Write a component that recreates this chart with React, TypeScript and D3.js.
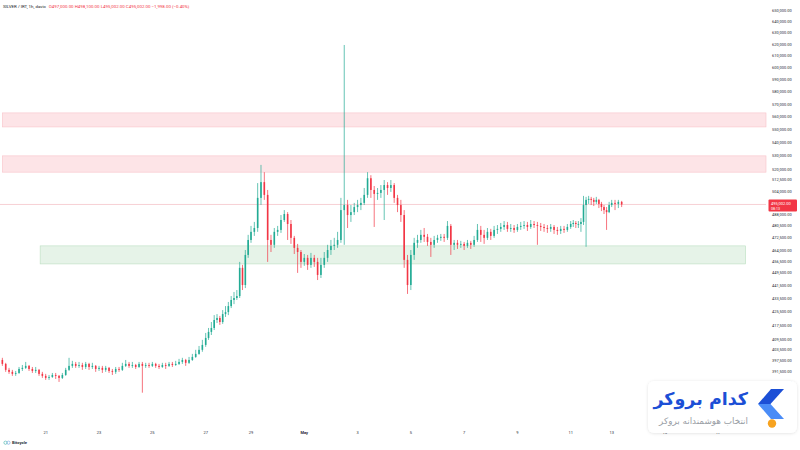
import React, { useEffect } from 'react'
import * as d3 from 'd3'

// hourly SILVER/IRT chart, resampled to 3h candles (values in thousands of IRT)
const firstCandle = new Date(2025, 3, 19, 9)
const candleHours = 3
const firstOpen = 397.8

const closes = [
  395.6, 392.3, 391.2, 390.1, 390.6, 392.8, 393.4, 394.5, 392.8, 391.7,
  392.3, 390.1, 389.0, 387.9, 388.4, 389.5, 389.0, 387.9, 389.5, 392.3,
  394.5, 395.6, 394.5, 395.0, 393.9, 395.6, 393.9, 394.5, 392.8, 393.4,
  392.3, 393.4, 391.7, 391.2, 392.8, 392.3, 394.5, 395.6, 394.5, 395.0,
  393.9, 395.6, 394.5, 395.0, 394.5, 395.6, 394.5, 393.9, 395.0, 394.5,
  395.6, 395.0, 395.6, 396.7, 397.8, 396.2, 397.8, 399.5, 401.2, 403.5,
  406.3, 410.3, 413.8, 416.1, 420.8, 422.0, 419.6, 424.3, 425.5, 429.1,
  432.8, 434.0, 435.2, 452.8, 442.0, 461.1, 470.9, 476.3, 478.9, 499.6,
  510.8, 501.7, 470.9, 467.7, 476.3, 477.6, 484.3, 488.4, 481.6, 472.3,
  465.7, 463.0, 456.6, 459.2, 454.7, 459.2, 456.6, 448.3, 454.7, 459.2,
  464.3, 467.0, 467.7, 470.9, 491.1, 494.6, 487.7, 489.7, 493.2, 494.6,
  496.1, 501.7, 513.6, 505.2, 502.4, 503.1, 505.2, 508.7, 506.6, 508.7,
  499.6, 494.6, 487.7, 457.9, 442.0, 461.1, 469.0, 470.9, 474.3, 473.0,
  469.6, 467.7, 470.9, 472.3, 473.0, 472.3, 480.3, 467.7, 469.0, 467.7,
  468.3, 467.0, 469.0, 467.7, 470.9, 477.6, 474.3, 472.3, 476.3, 473.6,
  477.6, 478.3, 479.6, 480.9, 478.3, 478.9, 477.6, 479.6, 480.3, 480.9,
  479.6, 481.6, 480.9, 480.3, 479.6, 478.9, 478.3, 479.6, 477.6, 476.9,
  478.3, 477.6, 479.6, 481.6, 482.3, 481.6, 481.6, 483.0, 494.6, 498.2,
  498.9, 498.2, 496.8, 498.2, 495.4, 493.2, 491.1, 489.7, 494.6, 496.1,
  495.4, 496.8, 495.002,
]

const highs = [
  399.0, 396.2, 393.4, 392.3, 391.7, 393.9, 395.0, 396.7, 395.0, 393.9,
  393.9, 392.8, 391.2, 390.1, 389.5, 390.6, 390.6, 389.5, 390.6, 393.4,
  399.0, 397.3, 396.7, 396.7, 396.2, 396.7, 396.2, 396.2, 395.0, 394.5,
  394.5, 394.5, 393.9, 392.8, 393.9, 393.9, 396.2, 397.8, 396.7, 396.7,
  395.6, 396.7, 396.7, 396.2, 396.2, 396.7, 396.2, 395.6, 396.2, 396.2,
  396.7, 396.7, 397.3, 398.4, 399.0, 398.4, 399.5, 401.2, 403.5, 405.7,
  409.2, 413.2, 416.1, 419.6, 423.7, 424.3, 423.2, 426.7, 429.1, 431.6,
  435.2, 437.7, 438.9, 456.6, 454.7, 464.3, 474.3, 480.3, 483.0, 510.1,
  523.3, 518.0, 505.2, 474.3, 478.9, 480.3, 487.7, 491.1, 489.7, 484.3,
  473.6, 468.3, 464.3, 461.7, 461.1, 462.4, 461.1, 459.2, 459.2, 463.0,
  467.7, 470.9, 472.3, 476.3, 499.6, 619.4, 498.2, 494.6, 496.1, 498.2,
  499.6, 506.6, 518.0, 515.8, 508.0, 506.6, 508.7, 512.3, 510.8, 512.3,
  510.1, 501.7, 498.2, 491.1, 461.1, 464.3, 472.3, 474.3, 477.6, 478.9,
  474.9, 472.3, 473.6, 474.3, 474.9, 474.9, 483.6, 481.6, 470.9, 470.9,
  470.3, 469.6, 470.9, 470.3, 473.6, 481.6, 480.3, 477.6, 478.9, 478.3,
  480.3, 480.9, 482.3, 483.6, 483.0, 481.6, 480.9, 481.6, 483.0, 483.6,
  483.0, 484.3, 483.6, 483.0, 482.3, 481.6, 480.9, 481.6, 480.9, 479.6,
  480.3, 480.3, 481.6, 483.6, 484.3, 483.6, 483.6, 485.6, 501.0, 500.3,
  501.0, 500.3, 499.6, 500.3, 498.9, 496.8, 494.6, 493.2, 496.8, 498.2,
  498.2, 498.2, 497.5,
]

const lows = [
  394.5, 391.2, 390.1, 389.0, 389.0, 390.1, 391.7, 392.8, 391.7, 390.6,
  390.6, 389.0, 387.9, 386.8, 386.8, 387.9, 387.3, 385.7, 387.3, 389.0,
  391.7, 393.4, 393.4, 393.4, 392.3, 392.8, 392.3, 392.8, 391.2, 391.7,
  390.6, 391.2, 390.6, 389.5, 390.1, 391.2, 391.7, 393.9, 393.4, 393.4,
  392.8, 393.4, 379.9, 393.4, 393.4, 393.9, 393.4, 392.8, 393.4, 392.8,
  393.9, 393.9, 394.5, 395.0, 395.6, 394.5, 395.6, 397.3, 399.0, 400.7,
  402.4, 405.2, 409.2, 412.0, 414.9, 419.0, 417.9, 418.5, 422.6, 423.7,
  427.9, 430.3, 432.8, 434.0, 438.9, 440.1, 459.2, 469.0, 473.6, 476.3,
  494.6, 498.2, 456.6, 463.0, 465.7, 473.6, 475.6, 483.0, 470.9, 468.3,
  461.7, 449.6, 452.8, 454.1, 451.5, 452.8, 453.4, 445.1, 446.4, 452.8,
  456.6, 461.1, 464.3, 465.7, 469.0, 467.7, 478.9, 483.0, 487.7, 489.7,
  491.1, 494.6, 499.6, 499.6, 479.6, 498.2, 499.6, 484.3, 501.7, 503.8,
  496.1, 489.7, 483.0, 452.8, 436.5, 438.9, 457.9, 465.7, 469.0, 469.6,
  467.0, 459.8, 465.7, 469.0, 470.3, 469.6, 470.9, 461.1, 464.3, 465.0,
  465.7, 464.3, 465.7, 465.0, 466.4, 469.6, 469.6, 468.3, 470.9, 470.9,
  472.3, 474.9, 476.3, 477.6, 476.3, 476.3, 475.6, 476.3, 477.6, 478.3,
  476.9, 478.3, 478.9, 467.7, 476.9, 476.3, 475.6, 476.3, 474.9, 474.3,
  474.9, 475.6, 476.3, 478.3, 479.6, 478.9, 478.9, 476.3, 480.9, 466.4,
  495.4, 494.6, 493.9, 495.4, 492.5, 490.4, 488.4, 477.6, 489.0, 493.2,
  491.1, 492.5, 493.2,
]

const lastPrice = 495002
const lastPriceText = '495,002.00'
const countdownText = '08:13'

// zones (IRT)
const resistanceZones = [
  [552000, 563000],
  [518000, 530000],
]
const supportZone = [455300, 467000]
const supportZoneDates = [new Date(2025, 3, 20, 19), new Date(2025, 4, 18, 1)]

// price axis labels
const priceTicks = [
  650000, 640000, 630000, 620000, 610000, 600000, 590000, 580000, 570000, 560000,
  550000, 540000, 530000, 520000, 512500, 504000, 488000, 480500, 472500, 464000,
  456500, 449500, 441500, 433500, 425500, 417500, 409500, 403500, 397500, 391500,
  385500,
]
const zeroTicks = [379500, 373500, 367500, 361500]

// date axis
const dateTicks = [
  new Date(2025, 3, 21), new Date(2025, 3, 23), new Date(2025, 3, 25), new Date(2025, 3, 27),
  new Date(2025, 3, 29), new Date(2025, 4, 1), new Date(2025, 4, 3), new Date(2025, 4, 5),
  new Date(2025, 4, 7), new Date(2025, 4, 9), new Date(2025, 4, 11), new Date(2025, 4, 13),
  new Date(2025, 4, 15), new Date(2025, 4, 17),
]
// bar-index axis: hours missing around Apr 27-29 and May 11-13 squeeze those days
const scaleAnchors = [
  new Date(2025, 3, 21), new Date(2025, 3, 27), new Date(2025, 3, 29),
  new Date(2025, 4, 11), new Date(2025, 4, 13), new Date(2025, 4, 17),
]

const headerSymbol = 'SILVER / IRT, 1h, davic'
const headerValues = 'O497,000.00 H498,100.00 L495,002.00 C495,002.00 \u22121,998.00 (\u22120.40%)'

const UP = '#22ab94'
const DOWN = '#f23645'

function App() {
  useEffect(() => {
    document.body.style.margin = '0'
  }, [])

  const plotRight = 766
  const x = d3
    .scaleTime()
    .domain(scaleAnchors)
    .range([45.7, 205.7, 251, 570.7, 611.7, 718])
  const y = d3.scaleLog().domain([650000, 385500]).range([10.7, 382.3])

  const candles = closes.map((c, i) => {
    const open = i === 0 ? firstOpen : closes[i - 1]
    return {
      t: d3.timeHour.offset(firstCandle, candleHours * i),
      o: open * 1000,
      c: c * 1000,
      h: highs[i] * 1000,
      l: lows[i] * 1000,
    }
  })

  const startX = x(firstCandle)
  const bodyW = 1.6
  const fmt = d3.format(',.2f')
  const axisFont = "Roboto, 'Liberation Sans', sans-serif"

  return (
    <svg
      width={800}
      height={450}
      style={{ display: 'block', background: '#fff' }}
      fontFamily={axisFont}
    >
      <defs>
        <filter id="shadow" x="-10%" y="-20%" width="120%" height="140%">
          <feDropShadow dx="0" dy="0.5" stdDeviation="1.5" floodColor="#000" floodOpacity="0.12" />
        </filter>
      </defs>

      {/* zones */}
      {resistanceZones.map(([lo, hi], i) => (
        <rect
          key={'r' + i}
          x={startX}
          y={y(hi)}
          width={plotRight - startX}
          height={y(lo) - y(hi)}
          fill="#fde4e7"
          stroke="#f8c3c9"
          strokeWidth={0.6}
        />
      ))}
      <rect
        x={x(supportZoneDates[0])}
        y={y(supportZone[1])}
        width={x(supportZoneDates[1]) - x(supportZoneDates[0])}
        height={y(supportZone[0]) - y(supportZone[1])}
        fill="#e6f3e8"
        stroke="#bcdfc1"
        strokeWidth={0.6}
      />

      {/* last price line */}
      <line
        x1={0}
        x2={plotRight}
        y1={y(lastPrice)}
        y2={y(lastPrice)}
        stroke="#f5c4c9"
        strokeWidth={0.8}
      />

      {/* candles */}
      {candles.map((d, i) => {
        const cx = x(d.t)
        const col = d.c >= d.o ? UP : DOWN
        const top = y(Math.max(d.o, d.c))
        const bot = y(Math.min(d.o, d.c))
        return (
          <g key={i}>
            <line x1={cx} x2={cx} y1={y(d.h)} y2={y(d.l)} stroke={col} strokeWidth={0.7} />
            <rect
              x={cx - bodyW / 2}
              y={top}
              width={bodyW}
              height={Math.max(0.8, bot - top)}
              fill={col}
            />
          </g>
        )
      })}

      {/* header */}
      <text x={3} y={8} fontSize={4.4} fill="#131722">
        {headerSymbol}
        <tspan dx={3} fill={DOWN}>
          {headerValues}
        </tspan>
      </text>

      {/* price axis */}
      {priceTicks.map(v => (
        <text key={v} x={772} y={y(v)} dy="0.35em" fontSize={4} fill="#2a2e39">
          {fmt(v)}
        </text>
      ))}
      {zeroTicks.map(v => (
        <text key={v} x={785} y={y(v)} dy="0.35em" fontSize={4} fill="#2a2e39">
          0.00
        </text>
      ))}

      {/* last price label */}
      <rect x={768.5} y={y(lastPrice) - 5} width={28.5} height={12} rx={1} fill={DOWN} />
      <text x={771} y={y(lastPrice) - 1.2} dy="0.35em" fontSize={4} fill="#fff">
        {lastPriceText}
      </text>
      <text x={771} y={y(lastPrice) + 3.8} dy="0.35em" fontSize={3.6} fill="#fff">
        {countdownText}
      </text>

      {/* time axis */}
      {dateTicks.map(d => (
        <text
          key={+d}
          x={x(d)}
          y={434}
          textAnchor="middle"
          fontSize={4}
          fontWeight={d.getDate() === 1 ? 700 : 400}
          fill="#2a2e39"
        >
          {d.getDate() === 1 ? d3.timeFormat('%b')(d) : d.getDate()}
        </text>
      ))}

      {/* source tag */}
      <g transform="translate(3,444)">
        <circle cx={2.5} cy={-1.3} r={1.6} fill="none" stroke="#3bb0a5" strokeWidth={0.6} />
        <circle cx={5.5} cy={-1.3} r={1.6} fill="none" stroke="#6aa0e0" strokeWidth={0.6} />
        <text x={9} y={0} fontSize={4.2} fontWeight={700} fill="#2a2e39">
          Bitcycle
        </text>
      </g>

      {/* watermark logo */}
      <g>
        <rect x={648} y={381} width={149} height={52} rx={6} fill="#fff" filter="url(#shadow)" />
        <text
          x={748}
          y={405}
          textAnchor="end"
          fontFamily="'DejaVu Sans', sans-serif"
          fontSize={17.5}
          fontWeight={700}
          fill="#1c4fd6"
        >
          کدام بروکر
        </text>
        <text
          x={748}
          y={424}
          textAnchor="end"
          fontFamily="'DejaVu Sans', sans-serif"
          fontSize={8.8}
          fill="#9aa0a6"
        >
          انتخاب هوشمندانه بروکر
        </text>
        <polygon points="771,389 784,389 770.5,404 758,404" fill="#1c4fd6" />
        <polygon points="758,404 770.5,404 784,419 771,419" fill="#4a8cf7" />
        <circle cx={772} cy={423.5} r={4.2} fill="#f7a320" />
      </g>
    </svg>
  )
}

export default App
